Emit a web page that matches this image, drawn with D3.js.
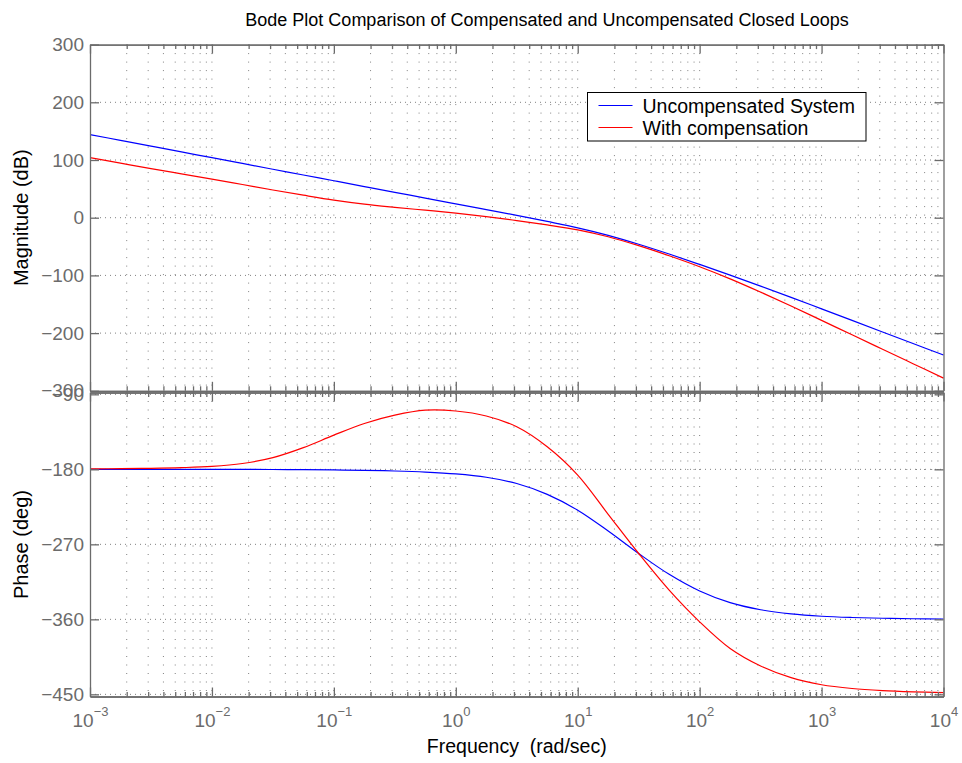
<!DOCTYPE html>
<html>
<head>
<meta charset="utf-8">
<script src="https://cdn.jsdelivr.net/npm/d3@7"></script>
<style>
body { margin: 0; background: #fff; }
text { font-family: "Liberation Sans", Arial, Helvetica, sans-serif; }
</style>
</head>
<body>
<svg id="bode"></svg>
<script>
// frequency samples, as powers of ten (rad/sec), quarter-decade steps
const logFreq = [-3, -2.75, -2.5, -2.25, -2, -1.75, -1.5, -1.25, -1, -0.75, -0.5, -0.25, 0,
    0.25, 0.5, 0.75, 1, 1.25, 1.5, 1.75, 2, 2.25, 2.5, 2.75, 3, 3.25, 3.5, 3.75, 4];

// magnitude (dB)
const magUncomp = [144, 134, 124, 114, 104, 94, 84, 74, 64, 54, 44, 34, 24,
    14, 4, -6.5, -17.5, -30.5, -46, -63, -81, -99.5, -118.5, -138, -158, -178, -198, -218, -238];
const magComp = [104, 94.5, 85, 76, 67, 57.5, 48, 39, 30.5, 23.5, 18, 13, 8,
    2, -5, -12.5, -21, -33, -48.5, -66, -85, -106, -129, -153, -178, -203, -228, -253, -278];

// phase (deg)
const phaseUncomp = [-180, -180, -180, -180, -180, -180, -180.2, -180.4, -180.7, -181.2, -182, -183.3, -185.5,
    -189.5, -197, -210, -229, -254, -281, -306, -326, -340, -348.5, -353.5, -356.3, -357.8, -358.7, -359.3, -359.6];
const phaseComp = [-179.5, -179.2, -178.8, -178, -176.5, -173, -166, -154, -139, -125, -115, -109, -110,
    -116, -129, -153, -187, -234, -281, -325, -363, -395, -416, -430, -438.5, -443, -445.5, -447, -448];

const seriesNames = ['Uncompensated System', 'With compensation'];
const seriesColors = ['#0000ff', '#ff0000'];

// tick values
const decadeTicks = [-3, -2, -1, 0, 1, 2, 3, 4];
const magTicks = [-300, -200, -100, 0, 100, 200, 300];
const phaseTicks = [-450, -360, -270, -180, -90];

const w = 962;
const h = 763;
const plotLeft = 90;
const plotRight = 943.5;
const axisColor = '#6b6b6b';

const svg = d3.select('#bode')
    .attr('width', w)
    .attr('height', h);

// shared log x scale
const xScale = d3.scaleLog()
    .domain([1e-3, 1e4])
    .range([plotLeft, plotRight]);

const majorX = decadeTicks.map(e => Math.pow(10, e));
const minorX = decadeTicks.slice(0, -1)
    .flatMap(e => d3.range(2, 10).map(k => k * Math.pow(10, e)));
const allX = majorX.concat(minorX).filter(v => v > 1e-3 && v < 1e4);

const panels = [
    { top: 44.6, bottom: 390.8, domain: [-300, 300], ticks: magTicks,
      label: 'Magnitude (dB)', series: [magUncomp, magComp], xLabels: false },
    { top: 392.5, bottom: 696.5, domain: [-452.6, -87.8], ticks: phaseTicks,
      label: 'Phase (deg)', series: [phaseUncomp, phaseComp], xLabels: true }
];

panels.forEach(p => {
    const yScale = d3.scaleLinear()
        .domain(p.domain)
        .range([p.bottom, p.top]);
    const g = svg.append('g');

    // dotted grid
    g.append('g')
        .selectAll('line')
        .data(allX)
        .enter()
        .append('line')
        .attr('x1', d => xScale(d))
        .attr('x2', d => xScale(d))
        .attr('y1', p.top)
        .attr('y2', p.bottom)
        .attr('stroke', '#808080')
        .attr('stroke-width', 1)
        .attr('stroke-dasharray', '1,7.5');
    g.append('g')
        .selectAll('line')
        .data(p.ticks.filter(t => yScale(t) > p.top + 1 && yScale(t) < p.bottom - 1))
        .enter()
        .append('line')
        .attr('x1', plotLeft)
        .attr('x2', plotRight)
        .attr('y1', d => yScale(d))
        .attr('y2', d => yScale(d))
        .attr('stroke', '#808080')
        .attr('stroke-width', 1)
        .attr('stroke-dasharray', '1,4');

    // curves
    p.series.forEach((vals, i) => {
        const line = d3.line()
            .x(d => xScale(Math.pow(10, d[0])))
            .y(d => yScale(d[1]))
            .curve(d3.curveCatmullRom);
        g.append('path')
            .datum(logFreq.map((f, j) => [f, vals[j]]))
            .attr('fill', 'none')
            .attr('stroke', seriesColors[i])
            .attr('stroke-width', 1.2)
            .attr('d', line);
    });

    // y axes, ticks pointing in
    const left = g.append('g')
        .attr('transform', `translate(${plotLeft},0)`)
        .call(d3.axisLeft(yScale).tickValues(p.ticks).tickSizeInner(-9).tickSizeOuter(0).tickPadding(6)
            .tickFormat(d => String(d).replace('-', '\u2212')));
    g.append('g')
        .attr('transform', `translate(${plotRight},0)`)
        .call(d3.axisRight(yScale).tickValues(p.ticks).tickSizeInner(-9).tickSizeOuter(0).tickFormat(''));

    // x axes, major and minor ticks
    const bottomAx = g.append('g')
        .attr('transform', `translate(0,${p.bottom})`)
        .call(d3.axisBottom(xScale).tickValues(majorX).tickSizeInner(-9).tickSizeOuter(0).tickPadding(14)
            .tickFormat(''));
    g.append('g')
        .attr('transform', `translate(0,${p.bottom})`)
        .call(d3.axisBottom(xScale).tickValues(minorX).tickSizeInner(-4.5).tickSizeOuter(0).tickFormat(''));
    g.append('g')
        .attr('transform', `translate(0,${p.top})`)
        .call(d3.axisTop(xScale).tickValues(majorX).tickSizeInner(-9).tickSizeOuter(0).tickFormat(''));
    g.append('g')
        .attr('transform', `translate(0,${p.top})`)
        .call(d3.axisTop(xScale).tickValues(minorX).tickSizeInner(-4.5).tickSizeOuter(0).tickFormat(''));

    g.selectAll('.domain, .tick line')
        .attr('stroke', axisColor)
        .attr('stroke-width', 1.3);
    left.selectAll('text')
        .attr('fill', axisColor)
        .attr('font-size', 19)
        .attr('font-family', '"Liberation Sans", Arial, sans-serif');

    // decade labels as 10 with a raised exponent
    if (p.xLabels) {
        const txt = bottomAx.selectAll('.tick text')
            .attr('fill', axisColor)
            .attr('font-size', 19)
            .attr('font-family', '"Liberation Sans", Arial, sans-serif')
            .attr('dy', '0.87em');
        txt.append('tspan').text('10');
        txt.append('tspan')
            .attr('font-size', 13)
            .attr('dy', '-0.85em')
            .text(d => String(Math.round(Math.log10(d))).replace('-', '\u2212'));
    }

    // y axis title
    svg.append('text')
        .attr('transform', `translate(28,${(p.top + p.bottom) / 2}) rotate(-90)`)
        .attr('text-anchor', 'middle')
        .attr('font-size', 20)
        .attr('fill', '#000')
        .text(p.label);
});

// title and x label
svg.append('text')
    .attr('x', 547)
    .attr('y', 26)
    .attr('text-anchor', 'middle')
    .attr('font-size', 18)
    .text('Bode Plot Comparison of Compensated and Uncompensated Closed Loops');

svg.append('text')
    .attr('x', (plotLeft + plotRight) / 2)
    .attr('y', 753)
    .attr('text-anchor', 'middle')
    .attr('font-size', 19.5)
    .attr('xml:space', 'preserve')
    .style('white-space', 'pre')
    .text('Frequency  (rad/sec)');

// legend
const legend = svg.append('g')
    .attr('transform', 'translate(587.5,92.5)');
legend.append('rect')
    .attr('width', 278.5)
    .attr('height', 48.5)
    .attr('fill', '#fff')
    .attr('stroke', '#000')
    .attr('stroke-width', 1);
seriesNames.forEach((name, i) => {
    const ly = 13 + i * 22;
    legend.append('line')
        .attr('x1', 11)
        .attr('x2', 45)
        .attr('y1', ly)
        .attr('y2', ly)
        .attr('stroke', seriesColors[i])
        .attr('stroke-width', 1.2);
    legend.append('text')
        .attr('x', 55)
        .attr('y', ly + 7)
        .attr('font-size', 19.5)
        .attr('fill', '#000')
        .text(name);
});
</script>
</body>
</html>
